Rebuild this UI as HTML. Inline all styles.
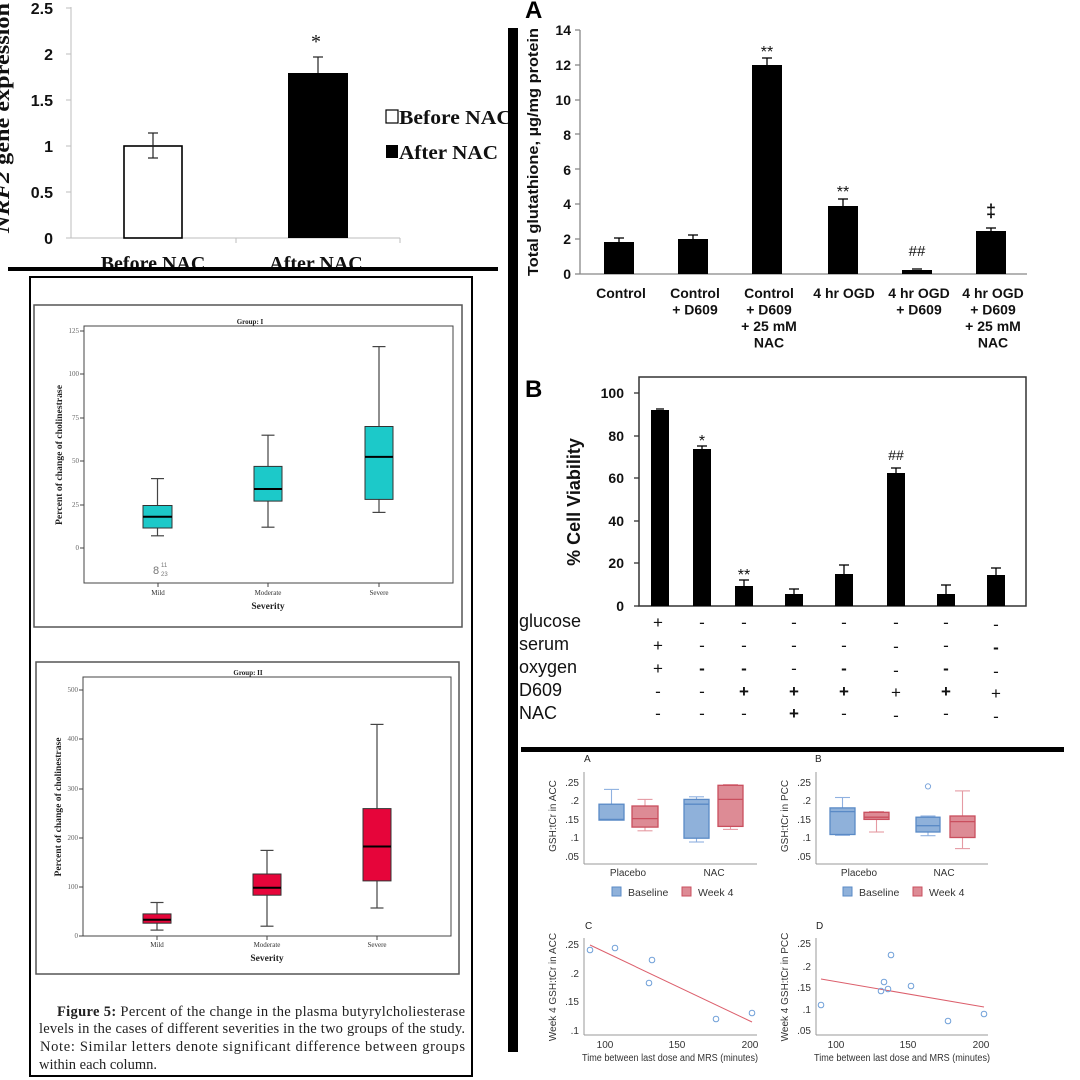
<!DOCTYPE html>
<html><head><meta charset="utf-8"><style>html,body{margin:0;padding:0;background:#fff}svg{display:block}</style></head>
<body>
<svg width="1080" height="1080" viewBox="0 0 1080 1080" xmlns="http://www.w3.org/2000/svg">
<rect width="1080" height="1080" fill="#fff"/>

<!-- ============ TOP-LEFT: NRF2 ============ -->
<g font-family="Liberation Sans, sans-serif" font-weight="bold" font-size="16" fill="#111" text-anchor="end">
<text x="53" y="244">0</text><text x="53" y="198">0.5</text><text x="53" y="152">1</text>
<text x="53" y="106">1.5</text><text x="53" y="60">2</text><text x="53" y="14">2.5</text>
</g>
<g stroke="#bdbdbd" stroke-width="1">
<line x1="71" y1="7" x2="71" y2="238"/><line x1="71" y1="238" x2="400" y2="238"/>
<line x1="66" y1="8" x2="71" y2="8"/><line x1="66" y1="54" x2="71" y2="54"/><line x1="66" y1="100" x2="71" y2="100"/>
<line x1="66" y1="146" x2="71" y2="146"/><line x1="66" y1="192" x2="71" y2="192"/><line x1="66" y1="238" x2="71" y2="238"/>
<line x1="236" y1="238" x2="236" y2="243"/><line x1="400" y1="238" x2="400" y2="243"/>
</g>
<rect x="124" y="146" width="58" height="92" fill="#fff" stroke="#000" stroke-width="1.6"/>
<g stroke="#222" stroke-width="1.2"><line x1="153" y1="133" x2="153" y2="158"/><line x1="148" y1="133" x2="158" y2="133"/><line x1="148" y1="158" x2="158" y2="158"/></g>
<rect x="288" y="73" width="60" height="165" fill="#000"/>
<g stroke="#222" stroke-width="1.2"><line x1="318" y1="57" x2="318" y2="73"/><line x1="313" y1="57" x2="323" y2="57"/></g>
<text x="316" y="48" font-family="Liberation Serif, serif" font-size="20" text-anchor="middle" fill="#111">*</text>
<g font-family="Liberation Serif, serif" font-weight="bold" font-size="20" fill="#111">
<text x="153" y="270" text-anchor="middle">Before NAC</text>
<text x="316" y="270" text-anchor="middle">After NAC</text>
<rect x="386" y="110" width="12" height="13" fill="#fff" stroke="#000" stroke-width="1.2"/>
<text x="399" y="124" textLength="113" lengthAdjust="spacingAndGlyphs">Before NAC</text>
<rect x="386" y="145" width="12" height="13" fill="#000"/>
<text x="399" y="159" textLength="99" lengthAdjust="spacingAndGlyphs">After NAC</text>
<text transform="translate(9,118) rotate(-90)" text-anchor="middle" font-size="21" textLength="230" lengthAdjust="spacingAndGlyphs"><tspan font-style="italic">NRF2</tspan> gene expression</text>
</g>
<rect x="8" y="267" width="490" height="4" fill="#000"/>

<!-- vertical bar -->
<rect x="508" y="28" width="10" height="1024" fill="#000"/>

<!-- ============ PANEL A (glutathione) ============ -->
<text x="525" y="18" font-family="Liberation Sans, sans-serif" font-weight="bold" font-size="24" fill="#000">A</text>
<text transform="translate(538,152) rotate(-90)" text-anchor="middle" font-family="Liberation Sans, sans-serif" font-weight="bold" font-size="15" fill="#111" textLength="248" lengthAdjust="spacingAndGlyphs">Total glutathione, µg/mg protein</text>
<g font-family="Liberation Sans, sans-serif" font-weight="bold" font-size="14" fill="#111" text-anchor="end">
<text x="571" y="279">0</text><text x="571" y="244">2</text><text x="571" y="209">4</text><text x="571" y="175">6</text>
<text x="571" y="140">8</text><text x="571" y="105">10</text><text x="571" y="70">12</text><text x="571" y="35">14</text>
</g>
<g stroke="#888" stroke-width="1.3">
<line x1="580" y1="30" x2="580" y2="274"/><line x1="580" y1="274" x2="1027" y2="274"/>
<line x1="575" y1="30" x2="580" y2="30"/><line x1="575" y1="65" x2="580" y2="65"/><line x1="575" y1="100" x2="580" y2="100"/>
<line x1="575" y1="134" x2="580" y2="134"/><line x1="575" y1="169" x2="580" y2="169"/><line x1="575" y1="204" x2="580" y2="204"/>
<line x1="575" y1="239" x2="580" y2="239"/><line x1="575" y1="274" x2="580" y2="274"/>
</g>
<g fill="#000">
<rect x="604" y="242" width="30" height="32"/><rect x="678" y="239" width="30" height="35"/>
<rect x="752" y="65" width="30" height="209"/><rect x="828" y="206" width="30" height="68"/>
<rect x="902" y="270" width="30" height="4"/><rect x="976" y="231" width="30" height="43"/>
</g>
<g stroke="#000" stroke-width="1.3">
<line x1="619" y1="238" x2="619" y2="242"/><line x1="614" y1="238" x2="624" y2="238"/>
<line x1="693" y1="235" x2="693" y2="239"/><line x1="688" y1="235" x2="698" y2="235"/>
<line x1="767" y1="58" x2="767" y2="65"/><line x1="762" y1="58" x2="772" y2="58"/>
<line x1="843" y1="199" x2="843" y2="206"/><line x1="838" y1="199" x2="848" y2="199"/>
<line x1="912" y1="269" x2="922" y2="269"/>
<line x1="991" y1="228" x2="991" y2="231"/><line x1="986" y1="228" x2="996" y2="228"/>
</g>
<g font-family="Liberation Sans, sans-serif" font-size="16" fill="#111" text-anchor="middle">
<text x="767" y="57">**</text><text x="843" y="197">**</text>
<text x="917" y="256" font-size="15">##</text>
<text x="991" y="217" font-size="18" font-weight="bold">‡</text>
</g>
<g font-family="Liberation Sans, sans-serif" font-weight="bold" font-size="14" fill="#111" text-anchor="middle">
<text x="621" y="298">Control</text>
<text x="695" y="298">Control</text><text x="695" y="314.5">+ D609</text>
<text x="769" y="298">Control</text><text x="769" y="314.5">+ D609</text><text x="769" y="331">+ 25 mM</text><text x="769" y="347.5">NAC</text>
<text x="844" y="298">4 hr OGD</text>
<text x="919" y="298">4 hr OGD</text><text x="919" y="314.5">+ D609</text>
<text x="993" y="298">4 hr OGD</text><text x="993" y="314.5">+ D609</text><text x="993" y="331">+ 25 mM</text><text x="993" y="347.5">NAC</text>
</g>

<!-- ============ PANEL B (cell viability) ============ -->
<text x="525" y="397" font-family="Liberation Sans, sans-serif" font-weight="bold" font-size="24" fill="#000">B</text>
<text transform="translate(580,502) rotate(-90)" text-anchor="middle" font-family="Liberation Sans, sans-serif" font-weight="bold" font-size="18" fill="#111">% Cell Viability</text>
<rect x="639" y="377" width="387" height="229" fill="none" stroke="#333" stroke-width="1.5"/>
<g stroke="#333" stroke-width="1.3">
<line x1="634" y1="606" x2="639" y2="606"/><line x1="634" y1="563" x2="639" y2="563"/><line x1="634" y1="521" x2="639" y2="521"/>
<line x1="634" y1="478" x2="639" y2="478"/><line x1="634" y1="436" x2="639" y2="436"/><line x1="634" y1="393" x2="639" y2="393"/>
</g>
<g font-family="Liberation Sans, sans-serif" font-weight="bold" font-size="14" fill="#111" text-anchor="end">
<text x="624" y="611">0</text><text x="624" y="568">20</text><text x="624" y="526">40</text>
<text x="624" y="483">60</text><text x="624" y="441">80</text><text x="624" y="398">100</text>
</g>
<g fill="#000">
<rect x="651" y="410" width="18" height="196"/><rect x="693" y="449" width="18" height="157"/>
<rect x="735" y="586" width="18" height="20"/><rect x="785" y="594" width="18" height="12"/>
<rect x="835" y="574" width="18" height="32"/><rect x="887" y="473" width="18" height="133"/>
<rect x="937" y="594" width="18" height="12"/><rect x="987" y="575" width="18" height="31"/>
</g>
<g stroke="#000" stroke-width="1.3">
<line x1="656" y1="409" x2="664" y2="409"/>
<line x1="702" y1="446" x2="702" y2="449"/><line x1="697" y1="446" x2="707" y2="446"/>
<line x1="744" y1="580" x2="744" y2="586"/><line x1="739" y1="580" x2="749" y2="580"/>
<line x1="794" y1="589" x2="794" y2="594"/><line x1="789" y1="589" x2="799" y2="589"/>
<line x1="844" y1="565" x2="844" y2="574"/><line x1="839" y1="565" x2="849" y2="565"/>
<line x1="896" y1="468" x2="896" y2="473"/><line x1="891" y1="468" x2="901" y2="468"/>
<line x1="946" y1="585" x2="946" y2="594"/><line x1="941" y1="585" x2="951" y2="585"/>
<line x1="996" y1="568" x2="996" y2="575"/><line x1="991" y1="568" x2="1001" y2="568"/>
</g>
<g font-family="Liberation Sans, sans-serif" font-size="16" fill="#111" text-anchor="middle">
<text x="702" y="446">*</text><text x="744" y="580">**</text><text x="896" y="460" font-size="14">##</text>
</g>
<g font-family="Liberation Sans, sans-serif" font-size="18" fill="#111">
<text x="519" y="627">glucose</text><text x="519" y="650">serum</text><text x="519" y="673">oxygen</text>
<text x="519" y="696">D609</text><text x="519" y="719">NAC</text>
</g>
<g font-family="Liberation Sans, sans-serif" font-size="17" fill="#111" text-anchor="middle">
<text x="658" y="628">+</text><text x="702" y="628">-</text><text x="744" y="628">-</text><text x="794" y="628">-</text><text x="844" y="628">-</text><text x="896" y="628">-</text><text x="946" y="628">-</text><text x="996" y="630">-</text>
<text x="658" y="651">+</text><text x="702" y="651">-</text><text x="744" y="651">-</text><text x="794" y="651">-</text><text x="844" y="651">-</text><text x="896" y="652">-</text><text x="946" y="651">-</text><text x="996" y="653" font-weight="bold">-</text>
<text x="658" y="674">+</text><text x="702" y="674" font-weight="bold">-</text><text x="744" y="674" font-weight="bold">-</text><text x="794" y="674">-</text><text x="844" y="674" font-weight="bold">-</text><text x="896" y="676">-</text><text x="946" y="674" font-weight="bold">-</text><text x="996" y="677">-</text>
<text x="658" y="697">-</text><text x="702" y="697">-</text><text x="744" y="697" font-weight="bold">+</text><text x="794" y="697" font-weight="bold">+</text><text x="844" y="697" font-weight="bold">+</text><text x="896" y="698">+</text><text x="946" y="697" font-weight="bold">+</text><text x="996" y="699">+</text>
<text x="658" y="719">-</text><text x="702" y="719">-</text><text x="744" y="719">-</text><text x="794" y="719" font-weight="bold">+</text><text x="844" y="719">-</text><text x="896" y="721">-</text><text x="946" y="719">-</text><text x="996" y="722">-</text>
</g>
<rect x="519" y="719" width="530" height="27" fill="#fff"/>
<rect x="521" y="747" width="543" height="5" fill="#000"/>

<!-- ============ BOTTOM-LEFT: boxplots ============ -->
<rect x="30" y="277" width="442" height="799" fill="none" stroke="#000" stroke-width="2"/>

<!-- Group I -->
<rect x="34" y="305" width="428" height="322" fill="none" stroke="#555" stroke-width="1.5"/>
<rect x="84" y="326" width="369" height="257" fill="none" stroke="#444" stroke-width="1"/>
<text x="250" y="324" font-family="Liberation Serif, serif" font-weight="bold" font-size="7" text-anchor="middle" fill="#222">Group: I</text>
<g stroke="#444" stroke-width="1">
<line x1="80" y1="548" x2="84" y2="548"/><line x1="80" y1="505" x2="84" y2="505"/><line x1="80" y1="461" x2="84" y2="461"/>
<line x1="80" y1="418" x2="84" y2="418"/><line x1="80" y1="374" x2="84" y2="374"/><line x1="80" y1="331" x2="84" y2="331"/>
<line x1="158" y1="583" x2="158" y2="587"/><line x1="268" y1="583" x2="268" y2="587"/><line x1="379" y1="583" x2="379" y2="587"/>
</g>
<g font-family="Liberation Serif, serif" font-size="7" fill="#666" text-anchor="end">
<text x="79" y="550">0</text><text x="79" y="507">25</text><text x="79" y="463">50</text>
<text x="79" y="420">75</text><text x="79" y="376">100</text><text x="79" y="333">125</text>
</g>
<text transform="translate(62,455) rotate(-90)" text-anchor="middle" font-family="Liberation Serif, serif" font-weight="bold" font-size="9" fill="#222" textLength="140" lengthAdjust="spacingAndGlyphs">Percent of change of cholinestrase</text>
<g stroke="#444" stroke-width="1.2">
<line x1="157.5" y1="478.6" x2="157.5" y2="535.8"/><line x1="151" y1="478.6" x2="164" y2="478.6"/><line x1="151" y1="535.8" x2="164" y2="535.8"/>
<line x1="268" y1="435.2" x2="268" y2="527.2"/><line x1="261.5" y1="435.2" x2="274.5" y2="435.2"/><line x1="261.5" y1="527.2" x2="274.5" y2="527.2"/>
<line x1="379" y1="346.6" x2="379" y2="512.4"/><line x1="372.5" y1="346.6" x2="385.5" y2="346.6"/><line x1="372.5" y1="512.4" x2="385.5" y2="512.4"/>
</g>
<g fill="#1cc9c9" stroke="#333" stroke-width="1">
<rect x="143" y="505.5" width="29" height="22.5"/>
<rect x="254" y="466.4" width="28" height="34.7"/>
<rect x="365" y="426.5" width="28" height="72.9"/>
</g>
<g stroke="#000" stroke-width="2">
<line x1="143" y1="516.8" x2="172" y2="516.8"/><line x1="254" y1="489" x2="282" y2="489"/><line x1="365" y1="456.9" x2="393" y2="456.9"/>
</g>
<g font-family="Liberation Sans, sans-serif" fill="#777">
<text x="153" y="574" font-size="11">8</text><text x="161" y="567" font-size="6">11</text><text x="161" y="576" font-size="6">23</text>
</g>
<g font-family="Liberation Serif, serif" font-size="7" fill="#333" text-anchor="middle">
<text x="158" y="595">Mild</text><text x="268" y="595">Moderate</text><text x="379" y="595">Severe</text>
</g>
<text x="268" y="609" font-family="Liberation Serif, serif" font-weight="bold" font-size="9.5" text-anchor="middle" fill="#222">Severity</text>

<!-- Group II -->
<rect x="36" y="662" width="423" height="312" fill="none" stroke="#555" stroke-width="1.5"/>
<rect x="83" y="677" width="368" height="259" fill="none" stroke="#444" stroke-width="1"/>
<text x="248" y="675" font-family="Liberation Serif, serif" font-weight="bold" font-size="7" text-anchor="middle" fill="#222">Group: II</text>
<g stroke="#444" stroke-width="1">
<line x1="79" y1="936" x2="83" y2="936"/><line x1="79" y1="887" x2="83" y2="887"/><line x1="79" y1="838" x2="83" y2="838"/>
<line x1="79" y1="789" x2="83" y2="789"/><line x1="79" y1="739" x2="83" y2="739"/><line x1="79" y1="690" x2="83" y2="690"/>
<line x1="157" y1="936" x2="157" y2="940"/><line x1="267" y1="936" x2="267" y2="940"/><line x1="377" y1="936" x2="377" y2="940"/>
</g>
<g font-family="Liberation Serif, serif" font-size="7" fill="#666" text-anchor="end">
<text x="78" y="938">0</text><text x="78" y="889">100</text><text x="78" y="840">200</text>
<text x="78" y="791">300</text><text x="78" y="741">400</text><text x="78" y="692">500</text>
</g>
<text transform="translate(61,807) rotate(-90)" text-anchor="middle" font-family="Liberation Serif, serif" font-weight="bold" font-size="9" fill="#222" textLength="139" lengthAdjust="spacingAndGlyphs">Percent of change of cholinestrase</text>
<g stroke="#444" stroke-width="1.2">
<line x1="157" y1="902.5" x2="157" y2="930.1"/><line x1="150.5" y1="902.5" x2="163.5" y2="902.5"/><line x1="150.5" y1="930.1" x2="163.5" y2="930.1"/>
<line x1="267" y1="850.4" x2="267" y2="926.2"/><line x1="260.5" y1="850.4" x2="273.5" y2="850.4"/><line x1="260.5" y1="926.2" x2="273.5" y2="926.2"/>
<line x1="377" y1="724.4" x2="377" y2="908"/><line x1="370.5" y1="724.4" x2="383.5" y2="724.4"/><line x1="370.5" y1="908" x2="383.5" y2="908"/>
</g>
<g fill="#e6053a" stroke="#333" stroke-width="1">
<rect x="143" y="913.9" width="28" height="9.3"/>
<rect x="253" y="874" width="28" height="21.2"/>
<rect x="363" y="808.6" width="28" height="72.3"/>
</g>
<g stroke="#000" stroke-width="2">
<line x1="143" y1="919.8" x2="171" y2="919.8"/><line x1="253" y1="887.8" x2="281" y2="887.8"/><line x1="363" y1="846.5" x2="391" y2="846.5"/>
</g>
<g font-family="Liberation Serif, serif" font-size="7" fill="#333" text-anchor="middle">
<text x="157" y="947">Mild</text><text x="267" y="947">Moderate</text><text x="377" y="947">Severe</text>
</g>
<text x="267" y="961" font-family="Liberation Serif, serif" font-weight="bold" font-size="9.5" text-anchor="middle" fill="#222">Severity</text>

<!-- caption -->
<g font-family="Liberation Serif, serif" font-size="14.5" fill="#222">
<text x="57" y="1016" textLength="408" lengthAdjust="spacing"><tspan font-weight="bold">Figure 5:</tspan> Percent of the change in the plasma butyrylcholiesterase</text>
<text x="39" y="1033" textLength="426" lengthAdjust="spacing">levels in the cases of different severities in the two groups of the study.</text>
<text x="40" y="1051" textLength="425" lengthAdjust="spacing">Note: Similar letters denote significant difference between groups</text>
<text x="39" y="1069">within each column.</text>
</g>

<!-- ============ BOTTOM-RIGHT: GSH panels ============ -->
<g font-family="Liberation Sans, sans-serif" font-size="10" fill="#222">
<text x="584" y="762">A</text><text x="815" y="762">B</text><text x="585" y="929">C</text><text x="816" y="929">D</text>
</g>
<g stroke="#999" stroke-width="1">
<line x1="584" y1="772" x2="584" y2="864"/><line x1="584" y1="864" x2="757" y2="864"/>
<line x1="816" y1="772" x2="816" y2="864"/><line x1="816" y1="864" x2="988" y2="864"/>
<line x1="584" y1="938" x2="584" y2="1035"/><line x1="584" y1="1035" x2="757" y2="1035"/>
<line x1="816" y1="938" x2="816" y2="1035"/><line x1="816" y1="1035" x2="988" y2="1035"/>
</g>
<g font-family="Liberation Sans, sans-serif" font-size="10" fill="#333" text-anchor="end">
<text x="579" y="786">.25</text><text x="579" y="804">.2</text><text x="579" y="823">.15</text><text x="579" y="841">.1</text><text x="579" y="860">.05</text>
<text x="811" y="786">.25</text><text x="811" y="804">.2</text><text x="811" y="823">.15</text><text x="811" y="841">.1</text><text x="811" y="860">.05</text>
<text x="579" y="948">.25</text><text x="579" y="977">.2</text><text x="579" y="1005">.15</text><text x="579" y="1034">.1</text>
<text x="811" y="947">.25</text><text x="811" y="970">.2</text><text x="811" y="991">.15</text><text x="811" y="1013">.1</text><text x="811" y="1034">.05</text>
</g>
<g font-family="Liberation Sans, sans-serif" font-size="10" fill="#333" text-anchor="middle">
<text transform="translate(556,816) rotate(-90)">GSH:tCr in ACC</text>
<text transform="translate(788,816) rotate(-90)">GSH:tCr in PCC</text>
<text transform="translate(556,987) rotate(-90)">Week 4 GSH:tCr in ACC</text>
<text transform="translate(788,987) rotate(-90)">Week 4 GSH:tCr in PCC</text>
<text x="628" y="876">Placebo</text><text x="714" y="876">NAC</text>
<text x="859" y="876">Placebo</text><text x="944" y="876">NAC</text>
<text x="605" y="1048">100</text><text x="677" y="1048">150</text><text x="750" y="1048">200</text>
<text x="836" y="1048">100</text><text x="908" y="1048">150</text><text x="981" y="1048">200</text>
<text x="670" y="1061" textLength="176" lengthAdjust="spacingAndGlyphs">Time between last dose and MRS (minutes)</text>
<text x="902" y="1061" textLength="176" lengthAdjust="spacingAndGlyphs">Time between last dose and MRS (minutes)</text>
</g>
<!-- legends -->
<g font-family="Liberation Sans, sans-serif" font-size="10.5" fill="#333">
<rect x="612" y="887" width="9" height="9" fill="#8fb1da" stroke="#5a8ac6"/><text x="628" y="896">Baseline</text>
<rect x="682" y="887" width="9" height="9" fill="#dd8b95" stroke="#c94f5e"/><text x="698" y="896">Week 4</text>
<rect x="843" y="887" width="9" height="9" fill="#8fb1da" stroke="#5a8ac6"/><text x="859" y="896">Baseline</text>
<rect x="913" y="887" width="9" height="9" fill="#dd8b95" stroke="#c94f5e"/><text x="929" y="896">Week 4</text>
</g>
<!-- whiskers A/B -->
<g stroke-width="1.1">
<g stroke="#8fb1e0">
<line x1="611.5" y1="789.4" x2="611.5" y2="804.2"/><line x1="604" y1="789.4" x2="619" y2="789.4"/>
<line x1="696.5" y1="796.8" x2="696.5" y2="799.4"/><line x1="689" y1="796.8" x2="704" y2="796.8"/>
<line x1="696.5" y1="838.2" x2="696.5" y2="842"/><line x1="689" y1="842" x2="704" y2="842"/>
<line x1="842.5" y1="797.5" x2="842.5" y2="807.9"/><line x1="835" y1="797.5" x2="850" y2="797.5"/>
<line x1="835" y1="835.3" x2="850" y2="835.3"/>
<line x1="928" y1="816" x2="928" y2="817.2"/><line x1="920.5" y1="816" x2="935.5" y2="816"/>
<line x1="928" y1="832" x2="928" y2="835.7"/><line x1="920.5" y1="835.7" x2="935.5" y2="835.7"/>
</g>
<g stroke="#e59aa3">
<line x1="645" y1="799.4" x2="645" y2="806"/><line x1="637.5" y1="799.4" x2="652.5" y2="799.4"/>
<line x1="645" y1="827.1" x2="645" y2="830.8"/><line x1="637.5" y1="830.8" x2="652.5" y2="830.8"/>
<line x1="723" y1="784.6" x2="738" y2="784.6"/>
<line x1="730.5" y1="826.4" x2="730.5" y2="829.4"/><line x1="723" y1="829.4" x2="738" y2="829.4"/>
<line x1="869" y1="811.6" x2="884" y2="811.6"/>
<line x1="876.5" y1="819.4" x2="876.5" y2="832"/><line x1="869" y1="832" x2="884" y2="832"/>
<line x1="962.5" y1="790.9" x2="962.5" y2="816"/><line x1="955" y1="790.9" x2="970" y2="790.9"/>
<line x1="962.5" y1="837.5" x2="962.5" y2="848.6"/><line x1="955" y1="848.6" x2="970" y2="848.6"/>
</g>
</g>
<g stroke-width="1.3">
<g fill="#8fb1da" stroke="#5a8ac6">
<rect x="599" y="804.2" width="25" height="15.9"/>
<rect x="684" y="799.4" width="25" height="38.8"/>
<rect x="830" y="807.9" width="25" height="26.6"/>
<rect x="916" y="817.2" width="24" height="14.8"/>
</g>
<g fill="#dd8b95" stroke="#c94f5e">
<rect x="632" y="806" width="26" height="21.1"/>
<rect x="718" y="785.3" width="25" height="41.1"/>
<rect x="864" y="812.3" width="25" height="7.1"/>
<rect x="950" y="816" width="25" height="21.5"/>
</g>
<g stroke="#5a8ac6">
<line x1="599" y1="819.4" x2="624" y2="819.4"/><line x1="684" y1="804.2" x2="709" y2="804.2"/>
<line x1="830" y1="811.6" x2="855" y2="811.6"/><line x1="916" y1="825.7" x2="940" y2="825.7"/>
</g>
<g stroke="#c94f5e">
<line x1="632" y1="818.6" x2="658" y2="818.6"/><line x1="718" y1="799.4" x2="743" y2="799.4"/>
<line x1="864" y1="817.2" x2="889" y2="817.2"/><line x1="950" y1="821.6" x2="975" y2="821.6"/>
</g>
</g>
<circle cx="928" cy="786.4" r="2.6" fill="none" stroke="#7ea7dc" stroke-width="1"/>
<!-- scatter C -->
<line x1="590" y1="945" x2="752" y2="1022" stroke="#dc5f6c" stroke-width="1"/>
<g fill="none" stroke="#6f9fd8" stroke-width="1">
<circle cx="590" cy="950" r="2.8"/><circle cx="615" cy="948" r="2.8"/><circle cx="652" cy="960" r="2.8"/>
<circle cx="649" cy="983" r="2.8"/><circle cx="716" cy="1019" r="2.8"/><circle cx="752" cy="1013" r="2.8"/>
</g>
<!-- scatter D -->
<line x1="821" y1="979" x2="984" y2="1007" stroke="#dc5f6c" stroke-width="1"/>
<g fill="none" stroke="#6f9fd8" stroke-width="1">
<circle cx="821" cy="1005" r="2.8"/><circle cx="881" cy="991" r="2.8"/><circle cx="884" cy="982" r="2.8"/>
<circle cx="888" cy="989" r="2.8"/><circle cx="891" cy="955" r="2.8"/><circle cx="911" cy="986" r="2.8"/>
<circle cx="948" cy="1021" r="2.8"/><circle cx="984" cy="1014" r="2.8"/>
</g>
<!-- re-draw vertical bar on top so legend text is clipped by it -->
<rect x="508" y="28" width="10" height="1024" fill="#000"/>
</svg>
</body></html>
